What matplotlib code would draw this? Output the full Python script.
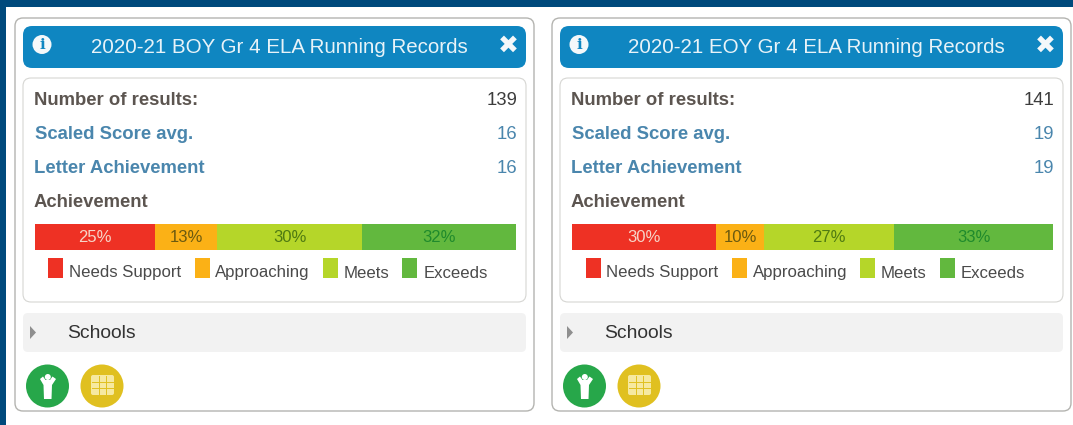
"""
Two summary cards of running record results, BOY and EOY
"""
import matplotlib.pyplot as plt
from matplotlib.patches import FancyBboxPatch, Circle, Polygon, Rectangle

plt.rcParams['font.family'] = ['Liberation Sans', 'DejaVu Sans']

W, H = 1073, 425

titles = ["2020-21 BOY Gr 4 ELA Running Records",
          "2020-21 EOY Gr 4 ELA Running Records"]
n_results = [139, 141]
scaled_avg = [16, 19]
letter_ach = [16, 19]
categories = ["Needs Support", "Approaching", "Meets", "Exceeds"]
boy_pct = [25, 13, 30, 32]
eoy_pct = [30, 10, 27, 33]
colors = ["#ee3124", "#fbb116", "#b5d629", "#62b83e"]
label_colors = ["#f6d5c8", "#6b5a10", "#4f7a12", "#1f8a2c"]

NAVY = "#004a7c"
BLUE = "#0f86c1"
LINK = "#4a86ad"
GREY = "#5c5550"
ROW = 13.3


def rbox(ax, x0, y0, x1, y1, fc, ec='none', lw=1.0, r=8, z=1):
    """Rounded box given in pixel coordinates"""
    ax.add_patch(FancyBboxPatch((x0 + r, y0 + r), x1 - x0 - 2 * r,
                                y1 - y0 - 2 * r,
                                boxstyle=f"round,pad={r},rounding_size={r}",
                                fc=fc, ec=ec, lw=lw, zorder=z))


def draw_card(fig, ax, dx, swatches, texts, title, num, scaled, letter, pct):
    """Draw one card, dx is the pixel offset of the card from the left one"""
    rbox(ax, 15 + dx, 18, 534 + dx, 411, 'white', ec='#b4b4b0', lw=1.0)
    rbox(ax, 23 + dx, 26, 526 + dx, 68, BLUE, r=9, z=2)
    rbox(ax, 23 + dx, 78, 526 + dx, 302, 'white', ec='#d6d6d3', lw=0.8, z=2)
    rbox(ax, 23 + dx, 313, 526 + dx, 352, '#f2f2f2', r=5, z=2)

    # Header row
    ax.add_patch(Circle((42 + dx, 44.5), 9.5, fc='#f4f8fa', zorder=3))
    ax.text(42 + dx, 45, "i", color=BLUE, fontsize=11, fontweight='bold',
            ha='center', va='center', family='DejaVu Serif', zorder=4)
    ax.text(279 + dx, 47, title, color='#e8f3f8', fontsize=14.8, ha='center',
            va='center', zorder=4)
    ax.text(508.5 + dx, 45.5, "\u2716", color='#f4f8fa', fontsize=18,
            ha='center', va='center', family='DejaVu Sans', zorder=4)

    # Rows of the summary
    ax.text(34 + dx, 100.5, "Number of results:", color=GREY, fontsize=ROW,
            fontweight='bold', va='center', zorder=4)
    ax.text(517 + dx, 100.5, str(num), color='#3c3c3c', fontsize=ROW,
            ha='right', va='center', zorder=4)
    ax.text(35 + dx, 134.5, "Scaled Score avg.", color=LINK, fontsize=ROW,
            fontweight='bold', va='center', zorder=4)
    ax.text(517 + dx, 134.5, str(scaled), color=LINK, fontsize=ROW, ha='right',
            va='center', zorder=4)
    ax.text(34 + dx, 168.5, "Letter Achievement", color=LINK, fontsize=ROW,
            fontweight='bold', va='center', zorder=4)
    ax.text(517 + dx, 168.5, str(letter), color=LINK, fontsize=ROW, ha='right',
            va='center', zorder=4)
    ax.text(34 + dx, 202.5, "Achievement", color=GREY, fontsize=ROW,
            fontweight='bold', va='center', zorder=4)

    # Stacked bar on its own axes, 0 to 100 percent
    bax = fig.add_axes([(34.5 + dx) / W, 1 - 249.5 / H, 481.5 / W, 25 / H],
                       zorder=3)
    left = 0
    for val, col, lcol in zip(pct, colors, label_colors):
        bax.barh(0, val, left=left, height=1, color=col)
        bax.text(left + val / 2, 0, f"{val}%", color=lcol, fontsize=12,
                 ha='center', va='center')
        left += val
    bax.set_xlim(0, 100)
    bax.set_ylim(-0.5, 0.5)
    bax.axis('off')

    # Legend
    for name, col, sx, tx in zip(categories, colors, swatches, texts):
        ax.add_patch(Rectangle((sx + dx, 257.5), 14.5, 20.5, fc=col, zorder=3))
        ax.text(tx + dx, 273, name, color='#4a4a4a', fontsize=12.1,
                va='center', zorder=4)

    # Schools row
    ax.add_patch(Polygon([(30 + dx, 326), (36 + dx, 332.5), (30 + dx, 339)],
                         fc='#8f8f8f', zorder=3))
    ax.text(67.5 + dx, 333.5, "Schools", color='#333333', fontsize=13.9,
            va='center', zorder=4)

    # Round buttons at the bottom
    ax.add_patch(Circle((47.5 + dx, 386), 21.5, fc='#27a74a', zorder=3))
    ax.add_patch(Polygon([(40 + dx, 379), (43 + dx, 376.5), (45.5 + dx, 380),
                          (50 + dx, 380), (52.5 + dx, 376.5), (56 + dx, 379),
                          (52 + dx, 385), (51.5 + dx, 399), (44 + dx, 399),
                          (43.5 + dx, 385)],
                         fc='white', zorder=4))
    ax.add_patch(Circle((47.8 + dx, 377), 3, fc='white', zorder=4))
    ax.add_patch(Circle((102 + dx, 386), 21.5, fc='#e0c020', zorder=3))
    ax.add_patch(FancyBboxPatch((92 + dx, 376), 21, 18,
                                boxstyle="round,pad=1,rounding_size=2",
                                fc='#f6e9a0', ec='none', zorder=4))
    for i in range(1, 3):
        ax.plot([92 + dx + i * 7] * 2, [376, 394], color='#e0c020', lw=0.7,
                zorder=5)
    for i in range(1, 3):
        ax.plot([92 + dx, 113 + dx], [376 + i * 6] * 2, color='#e0c020',
                lw=0.7, zorder=5)


fig = plt.figure(figsize=(W / 100, H / 100), dpi=100, facecolor='white')
ax = fig.add_axes([0, 0, 1, 1])
ax.set_xlim(0, W)
ax.set_ylim(H, 0)
ax.axis('off')

# Navy frame on the top and the left
ax.add_patch(Rectangle((0, 0), W, 7, fc=NAVY, zorder=0))
ax.add_patch(Rectangle((0, 0), 6, H, fc=NAVY, zorder=0))

draw_card(fig, ax, 0, [48, 195, 323, 402], [69, 215, 344, 424],
          titles[0], n_results[0], scaled_avg[0], letter_ach[0], boy_pct)
draw_card(fig, ax, 537, [49, 195, 323, 403], [69, 216, 344, 424],
          titles[1], n_results[1], scaled_avg[1], letter_ach[1], eoy_pct)

fig.savefig('out.png', dpi=100, facecolor='white')
